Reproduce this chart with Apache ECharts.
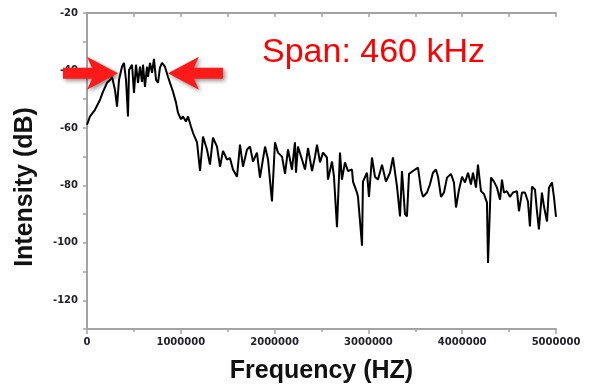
<!DOCTYPE html>
<html>
<head>
<meta charset="utf-8">
<script src="https://cdn.jsdelivr.net/npm/echarts@6/dist/echarts.min.js"></script>
<style>
  html, body { margin: 0; padding: 0; background: #fff; }
  #chart { width: 589px; height: 389px; }
</style>
</head>
<body>
<div id="chart"></div>
<script>
// spectrum: frequency (kHz) and intensity (dB)
var freqKHz = [
  0, 32, 85, 139, 171, 213, 245, 267, 298, 320, 341, 373, 394, 416, 437, 448, 480, 501, 522, 544,
  565, 586, 597, 618, 640, 650, 672, 693, 714, 736, 757, 778, 800, 831, 863, 885, 917, 949, 970, 1002,
  1023, 1055, 1077, 1109, 1130, 1173, 1205, 1237, 1279, 1311, 1343, 1386, 1418, 1450, 1492, 1524, 1556, 1599, 1631, 1663,
  1706, 1738, 1770, 1812, 1844, 1898, 1930, 1972, 2004, 2036, 2079, 2111, 2143, 2185, 2217, 2228, 2249, 2292, 2324, 2356,
  2399, 2431, 2452, 2484, 2516, 2558, 2569, 2612, 2633, 2665, 2697, 2718, 2750, 2782, 2825, 2836, 2878, 2889, 2932, 2942,
  2985, 3006, 3038, 3070, 3102, 3145, 3187, 3230, 3262, 3305, 3337, 3358, 3390, 3411, 3433, 3475, 3529, 3561, 3582, 3624,
  3656, 3688, 3720, 3742, 3774, 3806, 3838, 3880, 3912, 3934, 3966, 3998, 4030, 4062, 4093, 4115, 4147, 4168, 4200, 4232,
  4264, 4275, 4307, 4339, 4371, 4403, 4424, 4445, 4477, 4509, 4541, 4584, 4605, 4637, 4669, 4701, 4722, 4744, 4776, 4797,
  4818, 4850, 4872, 4904, 4925, 4957, 4978, 5000
];
var intensity = [
  -58.9, -56, -53.7, -50.2, -47.4, -44.3, -43.3, -42.2, -46.7, -52.6, -43.3, -38.7, -37.4, -43.3, -56, -39.8, -38, -47.8, -38, -44.3,
  -38.7, -44, -38, -45.7, -38.7, -42.2, -37.4, -40.8, -36, -43.3, -44.3, -39, -37.4, -38.7, -42.2, -44.3, -47.4, -51.2, -54.7, -57,
  -56, -57.8, -56, -59.6, -61.7, -65, -75, -63, -67.5, -72.8, -63.4, -66.5, -73.5, -68, -71, -70.5, -74.5, -77, -65.8, -73.5,
  -67.5, -66.5, -71.7, -68.6, -77.3, -66.5, -71, -85.6, -65, -68.6, -70, -76, -67.5, -74.5, -65, -75.6, -66.5, -71, -74.5, -67,
  -75, -70, -65.8, -72, -68.6, -70.3, -78, -71.7, -77, -94.6, -68.6, -78, -72, -75, -74.5, -78.7, -82.5, -84, -101, -78.7,
  -75.6, -84, -70.3, -77, -78, -72.8, -78.7, -75.6, -70.3, -80.4, -90.8, -75, -90, -90.8, -76, -75, -73.8, -81.5, -84, -82.5,
  -79.7, -75.6, -74.5, -77, -84, -82.5, -77.3, -76, -79, -87.7, -81.5, -77, -79, -75.6, -79.7, -75.6, -80.8, -72.8, -82, -83,
  -86, -107, -77.3, -78.7, -80.8, -85, -78, -82.5, -82, -84, -82.5, -82, -89, -82.5, -82.5, -85.6, -94.3, -80.4, -81.5, -89,
  -95.3, -82.5, -87.4, -92.6, -80.8, -79, -84, -91
];
var yLabels = [-20, -40, -60, -80, -100, -120];

// arrow annotation anchors (data space): [tail kHz, tip kHz, dB]
var leftArrow = [-256, 330, -41];
var rightArrow = [1450, 863, -41];

var points = freqKHz.map(function (f, i) { return [f * 1000, intensity[i]]; });

var chart = echarts.init(document.getElementById('chart'));
var axisColor = '#a3a3a3';
var fontFam = 'Liberation Sans, Arial, sans-serif';
var labelFont = { color: '#1f1f2a', fontSize: 10, fontWeight: 'bold', fontFamily: 'DejaVu Sans, sans-serif' };

chart.setOption({
  animation: false,
  grid: { left: 87, right: 33, top: 13, bottom: 59 },
  xAxis: [{
    type: 'value', position: 'bottom', min: 0, max: 5000000, interval: 1000000,
    name: 'Frequency (HZ)', nameLocation: 'middle', nameGap: 30,
    nameTextStyle: { color: '#111', fontSize: 25, fontWeight: 'bold', fontFamily: fontFam },
    axisLine: { lineStyle: { color: axisColor, width: 2 } },
    axisTick: { length: 5, lineStyle: { color: axisColor, width: 1.5 } },
    minorTick: { show: true, splitNumber: 2, length: 3, lineStyle: { color: axisColor, width: 1.5 } },
    axisLabel: Object.assign({ margin: 8, formatter: function (v) { return String(v); } }, labelFont),
    splitLine: { show: false }
  }, {
    type: 'value', position: 'top', min: 0, max: 5000000, interval: 500000,
    axisLine: { lineStyle: { color: axisColor, width: 2 } },
    axisTick: { inside: true, length: 4, lineStyle: { color: axisColor, width: 1.5 } },
    axisLabel: { show: false },
    splitLine: { show: false }
  }],
  yAxis: [{
    type: 'value', position: 'left', min: -130, max: -20, interval: 10,
    axisLine: { show: true, lineStyle: { color: axisColor, width: 2 } },
    axisTick: { length: 4, lineStyle: { color: axisColor, width: 1.5 } },
    axisLabel: Object.assign({
      margin: 9,
      formatter: function (v) { return yLabels.indexOf(v) >= 0 ? String(v) : ''; }
    }, labelFont),
    splitLine: { show: false }
  }, {
    type: 'value', position: 'right', min: -130, max: -20, interval: 10,
    axisLine: { show: true, lineStyle: { color: axisColor, width: 2 } },
    axisTick: { inside: true, length: 4, lineStyle: { color: axisColor, width: 1.5 } },
    axisLabel: { show: false },
    splitLine: { show: false }
  }],
  series: [{
    type: 'line',
    data: points,
    showSymbol: false,
    lineStyle: { color: '#000', width: 2 },
    z: 3
  }]
});

function arrowShape(a) {
  var tail = chart.convertToPixel({ xAxisIndex: 0, yAxisIndex: 0 }, [a[0] * 1000, a[2]]);
  var tip = chart.convertToPixel({ xAxisIndex: 0, yAxisIndex: 0 }, [a[1] * 1000, a[2]]);
  var dir = tip[0] > tail[0] ? 1 : -1;
  var y = tip[1], hw = 5.5, hl = 26, hh = 16.5;
  var neck = tip[0] - dir * hl;
  return {
    type: 'polygon',
    shape: { points: [
      [tail[0], y - hw], [neck, y - hw], [neck - dir * 5, y - hh], [tip[0], y],
      [neck - dir * 5, y + hh], [neck, y + hw], [tail[0], y + hw]
    ] },
    style: { fill: '#ff1a1a', shadowBlur: 4, shadowColor: 'rgba(0,0,0,0.45)', shadowOffsetX: 2, shadowOffsetY: 2 },
    z: 10
  };
}

chart.setOption({
  graphic: [
    arrowShape(leftArrow),
    arrowShape(rightArrow),
    {
      type: 'text', left: 262, top: 36, z: 10,
      style: { text: 'Span: 460 kHz', fill: '#ff0000', fontSize: 34, fontFamily: fontFam }
    },
    {
      type: 'text', x: 25, y: 187, rotation: Math.PI / 2, z: 10,
      style: {
        text: 'Intensity (dB)', fill: '#111', fontSize: 25, fontWeight: 'bold', fontFamily: fontFam,
        align: 'center', verticalAlign: 'middle'
      }
    }
  ]
});
</script>
</body>
</html>
